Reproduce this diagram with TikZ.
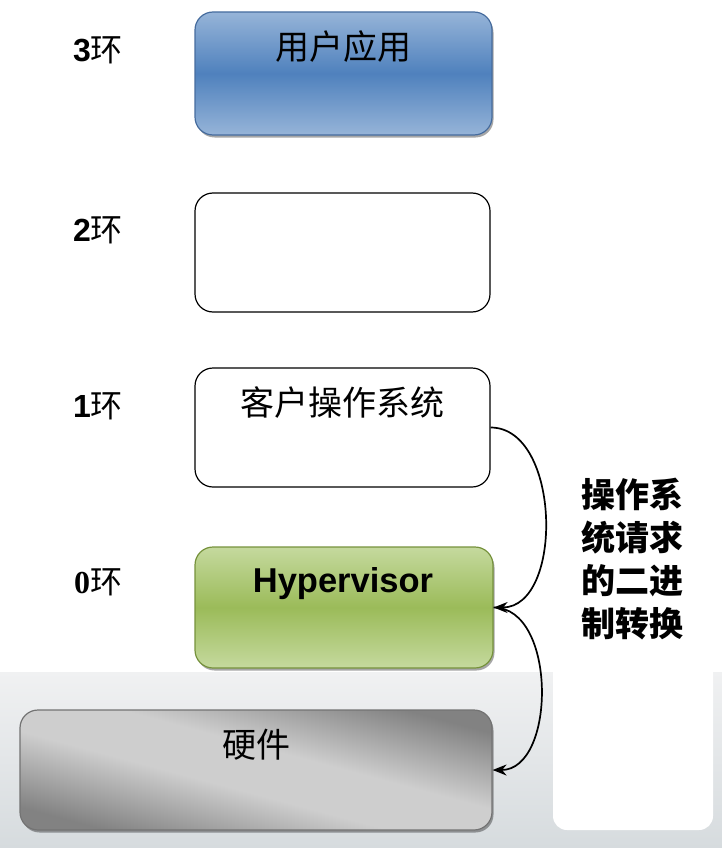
\documentclass[tikz,border=0pt]{standalone}
\usepackage{fontspec}
\setmainfont{Liberation Sans}
\newfontfamily\cjk{Noto Sans CJK SC}
\newfontfamily\serifb{Liberation Serif}
\usetikzlibrary{arrows.meta,shadows}
\definecolor{bluetop}{RGB}{150,180,216}
\definecolor{bluemid}{RGB}{79,129,189}
\definecolor{blueline}{RGB}{70,108,158}
\definecolor{greentop}{RGB}{197,217,158}
\definecolor{greenmid}{RGB}{155,187,89}
\definecolor{greenline}{RGB}{118,146,60}
\definecolor{hwdark}{RGB}{130,130,130}
\definecolor{hwlight}{RGB}{206,206,206}
\definecolor{hwline}{RGB}{115,115,115}
\definecolor{bgtop}{RGB}{240,241,242}
\definecolor{bgbot}{RGB}{214,219,222}
\pgfdeclareverticalshading{hwshade}{100bp}{color(0bp)=(hwdark); color(25bp)=(hwdark); color(44bp)=(hwlight); color(56bp)=(hwlight); color(75bp)=(hwdark); color(100bp)=(hwdark)}
\tikzset{
  ringbox/.style={rounded corners=18pt, inner sep=0pt, line width=1.2pt},
  shadowed/.style={drop shadow={shadow xshift=1.5pt, shadow yshift=-2.5pt, opacity=0.35, fill=black}},
  ringlbl/.style={font=\fontsize{32}{36}\selectfont, inner sep=0pt},
  boxtxt/.style={font=\cjk\fontsize{34}{38}\selectfont, inner sep=0pt},
  arr/.style={line width=1.7pt, -{Stealth[length=14pt,width=11pt]}}
}
\begin{document}
\begin{tikzpicture}[x=1pt,y=-1pt]
\useasboundingbox (0,0) rectangle (722,848);
% background
\shade[top color=bgtop, bottom color=bgbot] (0,672) rectangle (722,848);
\fill[white, rounded corners=14pt] (553,400) rectangle (713,830);
% ring labels
\node[ringlbl] (l3) at (98,50) {\textbf{3}{\cjk 环}};
\node[ringlbl] (l2) at (98,230) {\textbf{2}{\cjk 环}};
\node[ringlbl] (l1) at (98,406) {\textbf{1}{\cjk 环}};
\node[ringlbl] (l0) at (98,582) {{\serifb\bfseries 0}{\cjk 环}};
% boxes
\node[ringbox, shadowed, draw=blueline, top color=bluetop, bottom color=bluetop, middle color=bluemid,
      minimum width=297pt, minimum height=123pt] (b3) at (343.5,73.5) {};
\node[ringbox, draw=black, fill=white, minimum width=295pt, minimum height=119pt] (b2) at (342.5,252.5) {};
\node[ringbox, draw=black, fill=white, minimum width=295pt, minimum height=119pt] (b1) at (342.5,427.5) {};
\node[ringbox, shadowed, draw=greenline, top color=greentop, bottom color=greentop, middle color=greenmid,
      minimum width=298pt, minimum height=121pt] (hv) at (344,607.5) {};
\node[ringbox, shadowed, draw=hwline, shading=hwshade, shading angle=-15,
      minimum width=472pt, minimum height=120pt] (hw) at (256,770) {};
% box texts
\node[boxtxt] (b3t) at (343,47) {用户应用};
\node[boxtxt] (b1t) at (342,403) {客户操作系统};
\node[font=\bfseries\fontsize{34.5}{38}\selectfont, inner sep=0pt] (hvt) at (343,584) {Hypervisor};
\node[boxtxt] (hwt) at (256,745) {硬件};
% side text
\node[font=\cjk\bfseries\fontsize{34}{43}\selectfont, align=center, inner sep=0pt] (side) at (632,559)
  {操作系\\统请求\\的二进\\制转换};
% arrows
\draw[arr] (b1.east) to[out=0,in=0] (hv.east);
\draw[arr] (hv.east) to[out=0,in=0] (hw.east);
\end{tikzpicture}
\end{document}
